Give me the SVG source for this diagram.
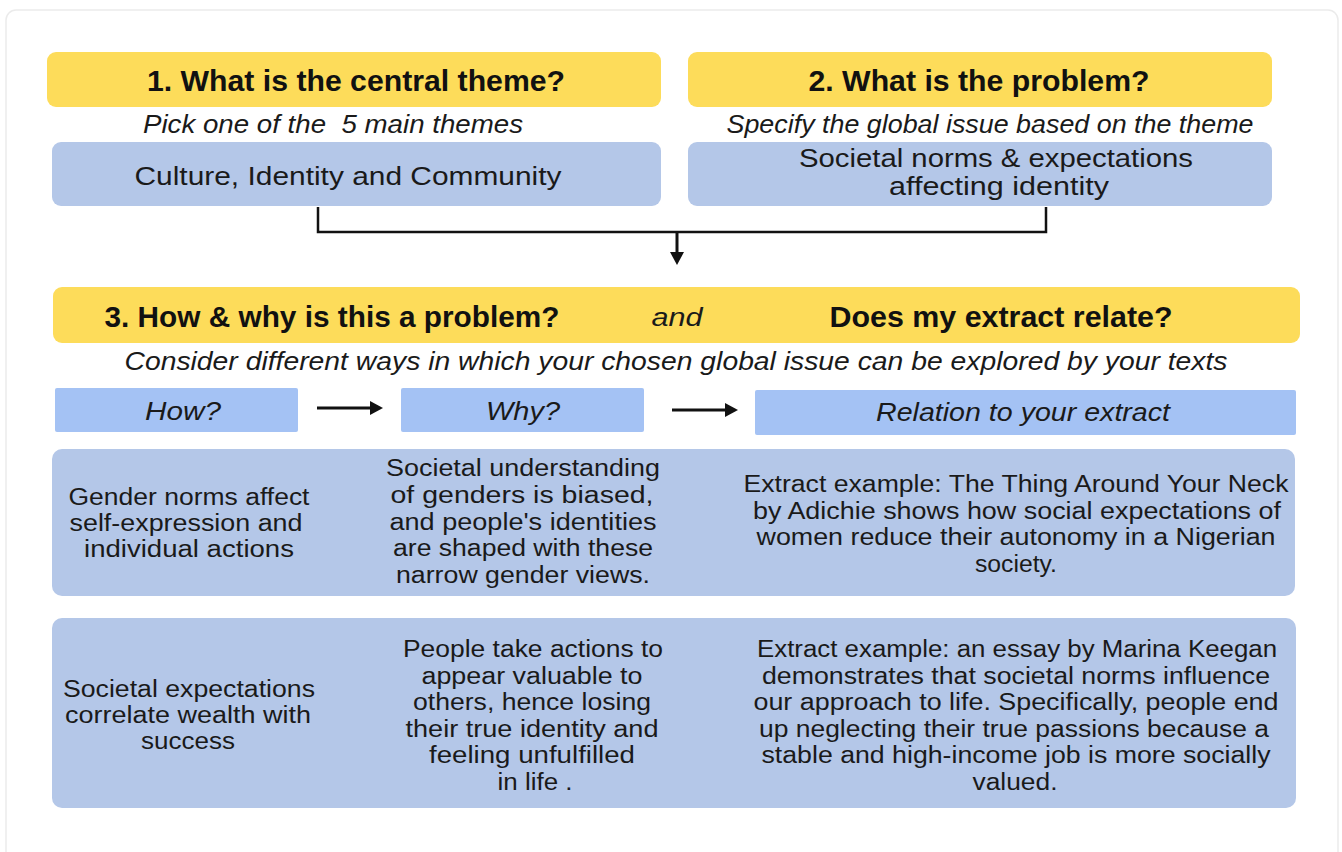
<svg xmlns="http://www.w3.org/2000/svg" width="1342" height="852" viewBox="0 0 1342 852">
<defs>
<style>
.card{fill:#ffffff;stroke:#ebebeb;stroke-width:1.5}
.yel{fill:#fddc5a}
.blu{fill:#b4c7e8}
.hw{fill:#a4c2f4}
.h{font-family:"Liberation Sans",Arial,sans-serif;font-weight:bold;font-size:30px;fill:#111;text-anchor:middle}
.it{font-family:"Liberation Sans",Arial,sans-serif;font-style:italic;font-size:25px;fill:#1a1a1a;text-anchor:middle}
.t{font-family:"Liberation Sans",Arial,sans-serif;font-size:26px;fill:#1a1a1a;text-anchor:middle}
.b{font-family:"Liberation Sans",Arial,sans-serif;font-size:23px;fill:#1a1a1a;text-anchor:middle}
.ln{fill:none;stroke:#111;stroke-width:2.5}
.ar{fill:none;stroke:#111;stroke-width:3}
.hd{fill:#111}
</style>
</defs>
<rect class="card" x="6" y="10" width="1332" height="880" rx="10"/>

<g id="q1">
<rect class="yel" x="47" y="52" width="614" height="55" rx="9"/>
<text class="h" x="356" y="91" textLength="418" lengthAdjust="spacingAndGlyphs">1. What is the central theme?</text>
<text class="it" x="333" y="133" textLength="380" lengthAdjust="spacingAndGlyphs" xml:space="preserve" style="white-space:pre">Pick one of the  5 main themes</text>
</g>
<g id="theme">
<rect class="blu" x="52" y="142" width="609" height="64" rx="9"/>
<text class="t" x="348" y="185" textLength="427" lengthAdjust="spacingAndGlyphs">Culture, Identity and Community</text>
</g>

<g id="q2">
<rect class="yel" x="688" y="52" width="584" height="55" rx="9"/>
<text class="h" x="979" y="91" textLength="341" lengthAdjust="spacingAndGlyphs">2. What is the problem?</text>
<text class="it" x="990" y="133" textLength="527" lengthAdjust="spacingAndGlyphs">Specify the global issue based on the theme</text>
</g>
<g id="problem">
<rect class="blu" x="688" y="142" width="584" height="64" rx="9"/>
<text class="t" x="996" y="167" textLength="394" lengthAdjust="spacingAndGlyphs">Societal norms &amp; expectations</text>
<text class="t" x="999" y="195" textLength="220" lengthAdjust="spacingAndGlyphs">affecting identity</text>
</g>

<g id="q3">
<rect class="yel" x="53" y="287" width="1247" height="56" rx="9"/>
<text class="h" x="332" y="327" textLength="455" lengthAdjust="spacingAndGlyphs">3. How &amp; why is this a problem?</text>
<text class="it" x="677" y="326" textLength="51" lengthAdjust="spacingAndGlyphs">and</text>
<text class="h" x="1001" y="327" textLength="343" lengthAdjust="spacingAndGlyphs">Does my extract relate?</text>
<text class="it" x="676" y="370" textLength="1103" lengthAdjust="spacingAndGlyphs">Consider different ways in which your chosen global issue can be explored by your texts</text>
</g>

<g id="how">
<rect class="hw" x="55" y="388" width="243" height="44" rx="2"/>
<text class="it" x="183" y="420" textLength="76" lengthAdjust="spacingAndGlyphs">How?</text>
</g>
<g id="why">
<rect class="hw" x="401" y="388" width="243" height="44" rx="2"/>
<text class="it" x="523" y="420" textLength="74" lengthAdjust="spacingAndGlyphs">Why?</text>
</g>
<g id="relation">
<rect class="hw" x="755" y="390" width="541" height="45" rx="2"/>
<text class="it" x="1023" y="421" textLength="294" lengthAdjust="spacingAndGlyphs">Relation to your extract</text>
</g>

<g id="row1">
<rect class="blu" x="52" y="449" width="1243" height="147" rx="10"/>
<text class="b" x="189" y="505" textLength="241" lengthAdjust="spacingAndGlyphs">Gender norms affect</text>
<text class="b" x="186" y="531" textLength="233" lengthAdjust="spacingAndGlyphs">self-expression and</text>
<text class="b" x="189" y="557" textLength="210" lengthAdjust="spacingAndGlyphs">individual actions</text>
<text class="b" x="523" y="476" textLength="274" lengthAdjust="spacingAndGlyphs">Societal understanding</text>
<text class="b" x="522" y="503" textLength="263" lengthAdjust="spacingAndGlyphs">of genders is biased,</text>
<text class="b" x="523" y="530" textLength="267" lengthAdjust="spacingAndGlyphs">and people's identities</text>
<text class="b" x="523" y="556" textLength="260" lengthAdjust="spacingAndGlyphs">are shaped with these</text>
<text class="b" x="523" y="583" textLength="254" lengthAdjust="spacingAndGlyphs">narrow gender views.</text>
<text class="b" x="1016" y="492" textLength="545" lengthAdjust="spacingAndGlyphs">Extract example: The Thing Around Your Neck</text>
<text class="b" x="1017" y="519" textLength="528" lengthAdjust="spacingAndGlyphs">by Adichie shows how social expectations of</text>
<text class="b" x="1016" y="545" textLength="519" lengthAdjust="spacingAndGlyphs">women reduce their autonomy in a Nigerian</text>
<text class="b" x="1016" y="572" textLength="82" lengthAdjust="spacingAndGlyphs">society.</text>
</g>

<g id="row2">
<rect class="blu" x="52" y="618" width="1244" height="190" rx="10"/>
<text class="b" x="189" y="697" textLength="252" lengthAdjust="spacingAndGlyphs">Societal expectations</text>
<text class="b" x="188" y="723" textLength="246" lengthAdjust="spacingAndGlyphs">correlate wealth with</text>
<text class="b" x="188" y="749" textLength="94" lengthAdjust="spacingAndGlyphs">success</text>
<text class="b" x="533" y="657" textLength="260" lengthAdjust="spacingAndGlyphs">People take actions to</text>
<text class="b" x="532" y="684" textLength="221" lengthAdjust="spacingAndGlyphs">appear valuable to</text>
<text class="b" x="532" y="710" textLength="238" lengthAdjust="spacingAndGlyphs">others, hence losing</text>
<text class="b" x="532" y="737" textLength="253" lengthAdjust="spacingAndGlyphs">their true identity and</text>
<text class="b" x="532" y="763" textLength="206" lengthAdjust="spacingAndGlyphs">feeling unfulfilled</text>
<text class="b" x="535" y="790" textLength="75" lengthAdjust="spacingAndGlyphs">in life .</text>
<text class="b" x="1017" y="657" textLength="520" lengthAdjust="spacingAndGlyphs">Extract example: an essay by Marina Keegan</text>
<text class="b" x="1016" y="684" textLength="508" lengthAdjust="spacingAndGlyphs">demonstrates that societal norms influence</text>
<text class="b" x="1016" y="710" textLength="525" lengthAdjust="spacingAndGlyphs">our approach to life. Specifically, people end</text>
<text class="b" x="1014" y="737" textLength="510" lengthAdjust="spacingAndGlyphs">up neglecting their true passions because a</text>
<text class="b" x="1016" y="763" textLength="509" lengthAdjust="spacingAndGlyphs">stable and high-income job is more socially</text>
<text class="b" x="1015" y="790" textLength="85" lengthAdjust="spacingAndGlyphs">valued.</text>
</g>

<g id="connectors">
<polyline class="ln" points="318,207 318,232 1046,232 1046,207"/>
<line class="ar" x1="677" y1="232" x2="677" y2="254"/>
<polygon class="hd" points="670,252 684,252 677,265"/>
<line class="ar" x1="317" y1="408" x2="372" y2="408"/>
<polygon class="hd" points="370,401 383,408 370,415"/>
<line class="ar" x1="672" y1="410" x2="727" y2="410"/>
<polygon class="hd" points="725,403 738,410 725,417"/>
</g>
</svg>
